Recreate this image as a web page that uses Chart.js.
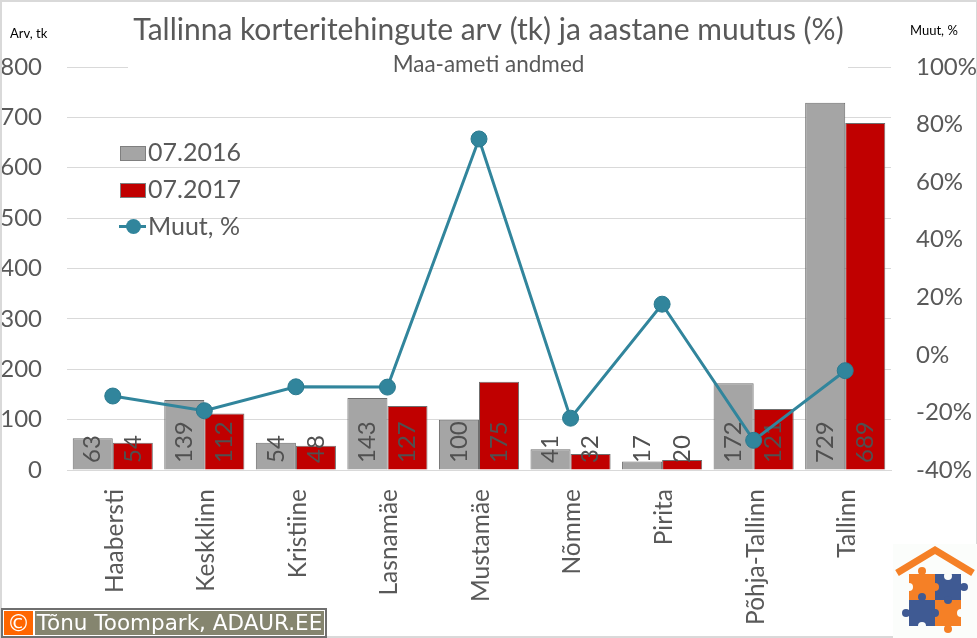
<!DOCTYPE html>
<html lang="et"><head><meta charset="utf-8">
<script src="https://cdn.jsdelivr.net/npm/chart.js@4"></script>
<style>
html,body{margin:0;padding:0;background:#fff;overflow:hidden}
#wrap{position:relative;width:977px;height:638px;overflow:hidden;background:#fff}
#frame{position:absolute;left:0;top:0;width:974px;height:634px;border:solid #d9d9d9;border-width:2px 1px 2px 2px;pointer-events:none}
canvas{position:absolute;left:0;top:0}
.u{position:absolute;font:13px Lato,sans-serif;color:#000;white-space:nowrap}
#legend{position:absolute;left:119px;top:135px;font:25px Lato,sans-serif;color:#595959}
#legend div{position:absolute;left:0;white-space:nowrap;height:36px;line-height:32px}
#legend i{position:absolute;display:block;box-sizing:border-box}
#credit{position:absolute;left:1px;top:608px;width:326px;height:30px;box-sizing:border-box;background:#fff;border:2px solid #6f6f6f}
#credit b{position:absolute;left:1px;top:1px;width:29px;height:24px;background:#f60;color:#fff;font:400 23px/24px "DejaVu Sans",sans-serif;text-align:center}
#credit span{position:absolute;left:32px;top:1px;width:289px;height:24px;background:#85856f;color:#fff;font:21.5px/24px "DejaVu Sans",sans-serif;text-align:center;white-space:nowrap}
#logo{position:absolute;left:893px;top:544px}
</style></head><body>
<div id="wrap">
<canvas id="c" width="977" height="638"></canvas>
<div id="frame"></div>
<div class="u" style="left:10px;top:25px">Arv, tk</div>
<div class="u" style="left:910px;top:22px">Muut, %</div>
<div id="legend"></div>
<svg id="logo" width="84" height="94" viewBox="0 0 84 94">
<rect width="84" height="94" fill="#fbfdfb"/>
<polyline points="4,29 42,6 80,29" fill="none" stroke="#f58026" stroke-width="7"/>
<rect x="16" y="30" width="26" height="26" fill="#f58026"/><rect x="42" y="30" width="26" height="26" fill="#3f5a93"/>
<rect x="16" y="56" width="26" height="26" fill="#3f5a93"/><rect x="42" y="56" width="26" height="26" fill="#f58026"/>
<circle cx="29" cy="27" r="4" fill="#f58026"/><circle cx="42" cy="43" r="4" fill="#f58026"/>
<circle cx="16" cy="43" r="4" fill="#fbfdfb"/><circle cx="55" cy="32" r="4" fill="#fbfdfb"/>
<circle cx="71" cy="43" r="4" fill="#3f5a93"/><circle cx="29" cy="53" r="4" fill="#3f5a93"/>
<circle cx="13" cy="69" r="4" fill="#3f5a93"/><circle cx="55" cy="56" r="4" fill="#3f5a93"/>
<circle cx="42" cy="69" r="4" fill="#3f5a93"/><circle cx="29" cy="82" r="4" fill="#fbfdfb"/>
<circle cx="68" cy="69" r="4" fill="#fbfdfb"/><circle cx="55" cy="85" r="4" fill="#f58026"/>
</svg>
<div id="credit"><b>©</b><span>Tõnu Toompark, ADAUR.EE</span></div>
</div>
<script>
const categories = ["Haabersti","Keskklinn","Kristiine","Lasnamäe","Mustamäe","Nõmme","Pirita","Põhja-Tallinn","Tallinn"];
const values2016 = [63,139,54,143,100,41,17,172,729];
const values2017 = [54,112,48,127,175,32,20,121,689];
const changePct = [-14.3,-19.4,-11.1,-11.2,75,-22,17.6,-29.7,-5.5];
const titleText = "Tallinna korteritehingute arv (tk) ja aastane muutus (%)";
const subtitleText = "Maa-ameti andmed";

const GREY="#a5a5a5",RED="#c00000",TEAL="#31859c",TXT="#595959",GRID="#d9d9d9";
const FONT="Lato, sans-serif";

const extras={id:"extras",
  beforeDatasetsDraw(chart){
    const y=chart.scales.y,ctx=chart.ctx,p=Math.round(y.getPixelForValue(800))+.5;
    ctx.save();ctx.strokeStyle=GRID;ctx.lineWidth=1;
    ctx.beginPath();ctx.moveTo(chart.chartArea.left,p);ctx.lineTo(128,p);
    ctx.moveTo(848,p);ctx.lineTo(chart.chartArea.right,p);ctx.stroke();ctx.restore();
  },
  afterDatasetDraw(chart,args){
    if(args.index>1)return;
    const ctx=chart.ctx,base=chart.scales.y.getPixelForValue(0);
    const meta=chart.getDatasetMeta(args.index),vals=chart.data.datasets[args.index].data;
    ctx.save();ctx.fillStyle="#505050";ctx.font="24px "+FONT;ctx.textAlign="left";ctx.textBaseline="middle";
    meta.data.forEach((el,i)=>{ctx.save();ctx.translate(el.x,base-7);ctx.rotate(-Math.PI/2);ctx.fillText(String(vals[i]),0,0);ctx.restore();});
    ctx.restore();
  }
};

const chart=new Chart(document.getElementById("c"),{
  type:"bar",
  data:{labels:categories,datasets:[
    {label:"07.2016",data:values2016,backgroundColor:GREY,borderColor:"#6f6f6f",borderWidth:1,inflateAmount:0,yAxisID:"y",order:2,categoryPercentage:.875,barPercentage:1},
    {label:"07.2017",data:values2017,backgroundColor:RED,borderColor:"#6f6f6f",borderWidth:1,inflateAmount:0,yAxisID:"y",order:2,categoryPercentage:.875,barPercentage:1},
    {type:"line",label:"Muut, %",data:changePct,borderColor:TEAL,backgroundColor:TEAL,borderWidth:3,pointRadius:8,pointBackgroundColor:TEAL,pointBorderColor:"#2b7a8f",pointBorderWidth:1,tension:0,yAxisID:"y1",order:1}
  ]},
  options:{
    responsive:false,animation:false,devicePixelRatio:1,
    layout:{padding:0},
    plugins:{
      legend:{display:false},tooltip:{enabled:false},
      title:{display:true,text:titleText,color:TXT,font:{family:FONT,size:30,weight:"400",lineHeight:1},padding:{top:15,bottom:8}},
      subtitle:{display:true,text:subtitleText,color:TXT,font:{family:FONT,size:22.5,weight:"400",lineHeight:1},padding:{top:0,bottom:-8.5}}
    },
    scales:{
      x:{grid:{display:false,drawTicks:false},border:{color:GRID},
        afterFit(s){s.height=168},
        ticks:{minRotation:90,maxRotation:90,autoSkip:false,padding:19,labelOffset:2,color:TXT,font:{family:FONT,size:24.5}}},
      y:{position:"left",min:0,max:800,afterFit(s){s.width=67},
        afterBuildTicks(s){s.ticks=[0,100,200,300,400,500,600,700,800].map(v=>({value:v}))},
        grid:{drawTicks:false,color:c=>c.tick&&c.tick.value===800?"rgba(0,0,0,0)":GRID},border:{display:false},
        ticks:{padding:25,color:TXT,font:{family:FONT,size:24}}},
      y1:{position:"right",min:-40,max:100,afterFit(s){s.width=86},
        afterBuildTicks(s){s.ticks=[-40,-20,0,20,40,60,80,100].map(v=>({value:v}))},
        grid:{display:false,drawTicks:false},border:{display:false},
        ticks:{padding:25,color:TXT,font:{family:FONT,size:24},callback:v=>v+"%"}}
    }
  },
  plugins:[extras]
});

// legend built from the chart's own datasets
const lg=document.getElementById("legend");
chart.data.datasets.forEach((d,i)=>{
  const row=document.createElement("div");row.style.top=(i*37)+"px";
  const t=document.createElement("span");t.textContent=d.label;t.style.marginLeft="29px";
  row.appendChild(t);
  if(i<2){const s=document.createElement("i");s.style.cssText=`left:1px;top:11px;width:26px;height:15px;background:${d.backgroundColor};border:1px solid #7f7f7f`;row.appendChild(s);}
  else{const l=document.createElement("i");l.style.cssText=`left:0;top:16px;width:27px;height:3px;background:${d.borderColor}`;row.appendChild(l);
    const m=document.createElement("i");m.style.cssText=`left:7px;top:10px;width:15px;height:15px;border-radius:50%;background:${d.borderColor}`;row.appendChild(m);}
  lg.appendChild(row);
});
</script>
</body></html>
